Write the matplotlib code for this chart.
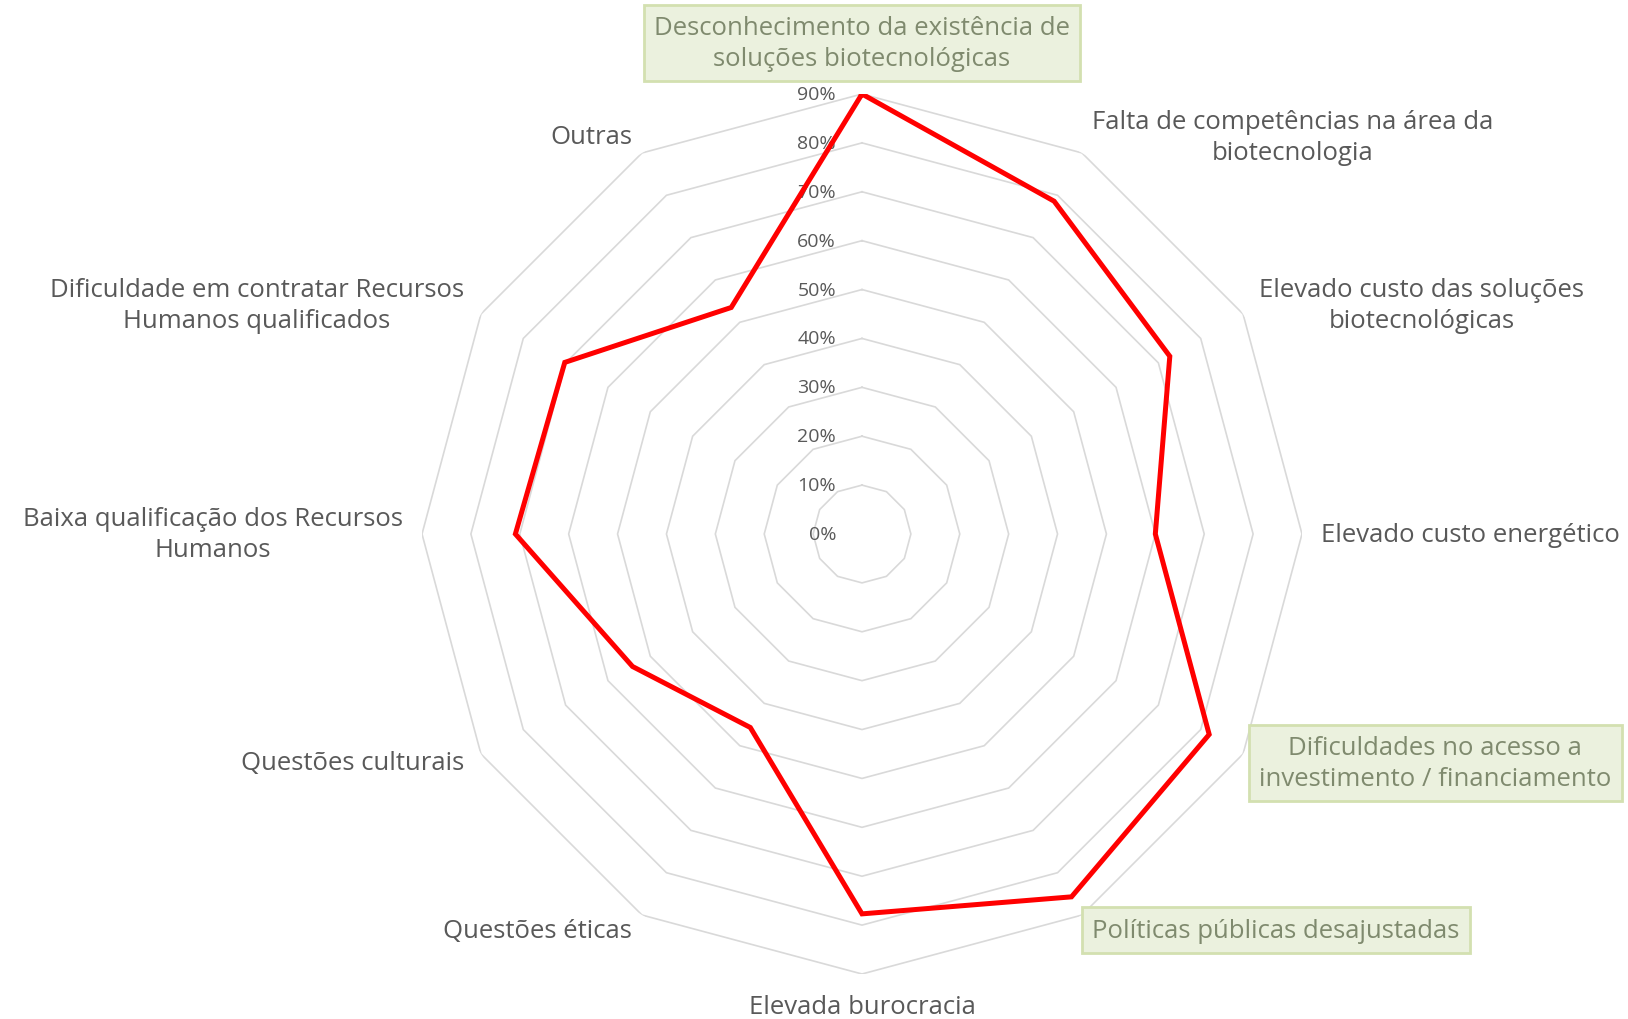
import numpy as np
import matplotlib
matplotlib.use("Agg")
import matplotlib.pyplot as plt

# ---------------- data ----------------
categories = [
    "Desconhecimento da existência de\nsoluções biotecnológicas",
    "Falta de competências na área da\nbiotecnologia",
    "Elevado custo das soluções\nbiotecnológicas",
    "Elevado custo energético",
    "Dificuldades no acesso a\ninvestimento / financiamento",
    "Políticas públicas desajustadas",
    "Elevada burocracia",
    "Questões éticas",
    "Questões culturais",
    "Baixa qualificação dos Recursos\nHumanos",
    "Dificuldade em contratar Recursos\nHumanos qualificados",
    "Outras",
]
values = [90.0, 78.6, 72.7, 60.0, 82.0, 85.7, 77.7, 45.7, 54.2, 70.9, 70.2, 53.5]
ring_levels = [0, 10, 20, 30, 40, 50, 60, 70, 80, 90]
tick_labels = ["0%", "10%", "20%", "30%", "40%", "50%", "60%", "70%", "80%", "90%"]
boxed_categories = [categories[0], categories[4], categories[5]]

# ---------------- style ----------------
plt.rcParams['font.family'] = ['Open Sans', 'DejaVu Sans']
TEXT = "#595959"
GRID = "#d9d9d9"
BOX_TEXT = "#7f8a6e"
BOX_FACE = "#ebf1de"
BOX_EDGE = "#d3e0b0"

W, H = 1628, 1020
fig = plt.figure(figsize=(W / 100, H / 100), dpi=100)
cx, cy, R = 862, 535, 440
ax = fig.add_axes([(cx - R) / W, (H - cy - R) / H, 2 * R / W, 2 * R / H], projection='polar')
ax.set_theta_zero_location('N')
ax.set_theta_direction(-1)
ax.set_ylim(0, ring_levels[-1])
ax.grid(False)
ax.spines['polar'].set_visible(False)
ax.set_xticks([])
ax.set_yticks([])
ax.patch.set_alpha(0)

n = len(categories)
angles = np.arange(n) * 2 * np.pi / n
closed = np.append(angles, angles[0])

# polygon grid rings
for lvl in ring_levels[1:]:
    ax.plot(closed, [lvl] * (n + 1), color=GRID, lw=1.2, zorder=1, solid_joinstyle='miter')

# radial tick labels
for lvl, lab in zip(ring_levels, tick_labels):
    ax.annotate(lab, xy=(0, lvl), xycoords='data', xytext=(-26, 0), textcoords='offset pixels',
                ha='right', va='center', fontsize=14, color=TEXT, zorder=3)

# data line
vals = np.append(values, values[0])
ax.plot(closed, vals, color="#ff0000", lw=3.6, zorder=4, solid_joinstyle='miter')

# category labels (ha, dx, dy in pixels from outer vertex)
layout = [
    ('center', 0, 51), ('left', 10, 16), ('left', 16, 9), ('left', 19, 0),
    ('left', 16, -9), ('left', 10, -15), ('center', 0, -33), ('right', -10, -15),
    ('right', -17, -9), ('right', -19, 0), ('right', -17, 9), ('right', -10, 16),
]
for ang, cat, (ha, dx, dy) in zip(angles, categories, layout):
    kw = dict(ha=ha, va='center', multialignment='center', fontsize=18.5, color=TEXT,
              linespacing=1.3, zorder=5, annotation_clip=False)
    if cat in boxed_categories:
        kw.update(color=BOX_TEXT,
                  bbox=dict(boxstyle='square,pad=0.4', facecolor=BOX_FACE, edgecolor=BOX_EDGE, lw=2))
    ax.annotate(cat, xy=(ang, ring_levels[-1]), xycoords='data', xytext=(dx, dy),
                textcoords='offset pixels', **kw)

fig.savefig("out.png", dpi=100, facecolor='white')
